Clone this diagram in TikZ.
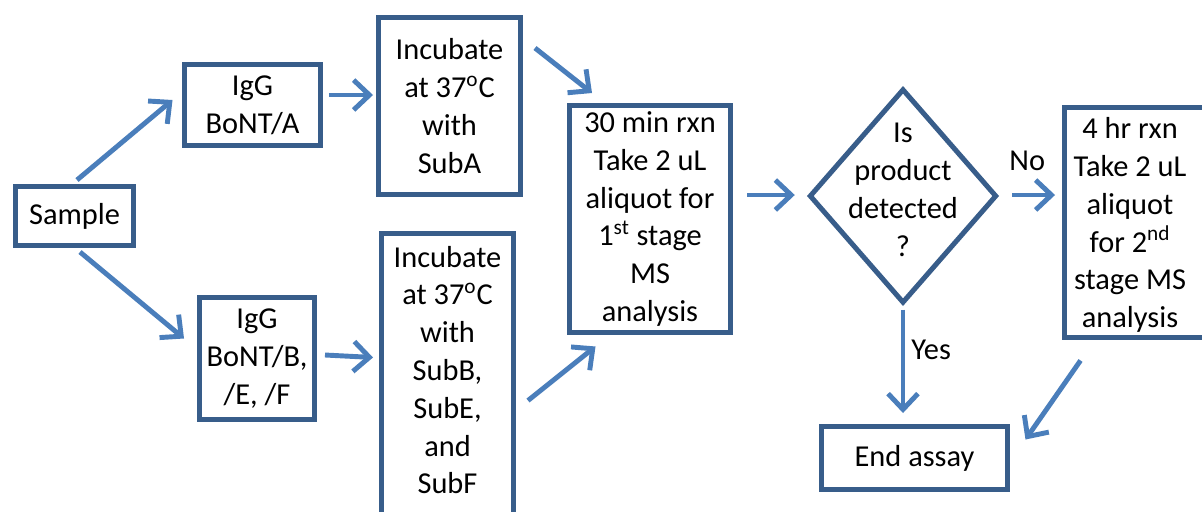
\documentclass[tikz,border=0pt]{standalone}
\usepackage{fontspec}
\setmainfont{Carlito}
\usetikzlibrary{arrows.meta}
\usetikzlibrary{shapes.geometric}

\definecolor{boxblue}{RGB}{56,93,138}
\definecolor{arrowblue}{RGB}{74,126,187}

\begin{document}
\begin{tikzpicture}[x=0.02cm, y=-0.02cm,
    every node/.style={font=\fontsize{17.3}{21.5}\selectfont, align=center},
    box/.style={draw=boxblue, line width=2.85pt, inner sep=0pt},
    arr/.style={draw=arrowblue, line width=2.8pt, -{Straight Barb[length=9pt,width=17pt]}}]
    \useasboundingbox (0,0) rectangle (1202,511);
    \node[box, minimum width=2.36cm, minimum height=1.18cm] (smp) at (74.5,216) {Sample};
    \node[box, minimum width=2.72cm, minimum height=1.62cm] (iga) at (252.5,105) {IgG\\BoNT/A};
    \node[box, minimum width=2.84cm, minimum height=3.54cm] (inca) at (449.5,106) {Incubate\\at 37\textsuperscript{o}C\\with\\SubA};
    \node[box, minimum width=2.30cm, minimum height=2.44cm] (igb) at (257,358.5) {IgG\\BoNT/B,\\/E, /F};
    \node[box, minimum width=2.64cm, minimum height=6.59cm, anchor=north] (incb) at (447.5,230.5) {};
    \node (incbtxt) at (447.5,370) {Incubate\\at 37\textsuperscript{o}C\\with\\SubB,\\SubE,\\and\\SubF};
    \node[box, minimum width=3.22cm, minimum height=4.54cm] (t30) at (650,219) {30 min rxn\\Take 2 uL\\aliquot for\\1\textsuperscript{st} stage\\MS\\analysis};
    \node[box, diamond, minimum width=3.75cm, minimum height=4.29cm] (dia) at (903,196) {};
    \node (diatxt) at (903,190) {Is\\product\\detected\\?};
    \node[box, minimum width=3.21cm, minimum height=4.6cm] (h4) at (1144.75,222.5) {};
    \node (h4txt) at (1130,225) {4 hr rxn\\Take 2 uL\\aliquot\\for 2\textsuperscript{nd}\\stage MS\\analysis};
    \node[box, minimum width=3.72cm, minimum height=1.26cm] (end) at (914.5,458) {End assay};

    \draw[arr] ([shift={(2.5,-4)}]smp.north) -- ([shift={(-9.5,-5)}]iga.west);
    \draw[arr] ([shift={(5.5,4)}]smp.south) -- ([shift={(-13,-20)}]igb.west);
    \draw[arr] ([shift={(6,-10)}]iga.east) -- ([shift={(-3,-11)}]inca.west);
    \draw[arr] ([shift={(8,-3.5)}]igb.east) -- ([shift={(-6,-40.25)}]incb.west);
    \draw[arr] ([shift={(12,33)}]inca.north east) -- ([shift={(25,-10)}]t30.north west);
    \draw[arr] ([shift={(12,170)}]incb.north east) -- ([shift={(28.5,11.5)}]t30.south west);
    \draw[arr] ([shift={(14,-24)}]t30.east) -- ([shift={(-12,-1)}]dia.west);
    \draw[arr] ([shift={(13,-1)}]dia.east) -- node[pos=0.35, above=9pt] (lno) {No} ([shift={(-7,-27.5)}]h4.west);
    \draw[arr, shorten >=0.22cm] ([shift={(0,4)}]dia.south) -- node[pos=0.35, right] (lyes) {Yes} (dia.south |- end.north);
    \draw[arr] ([shift={(18.5,20.5)}]h4.south west) -- ([shift={(15.5,15.5)}]end.north east);
\end{tikzpicture}
\end{document}
